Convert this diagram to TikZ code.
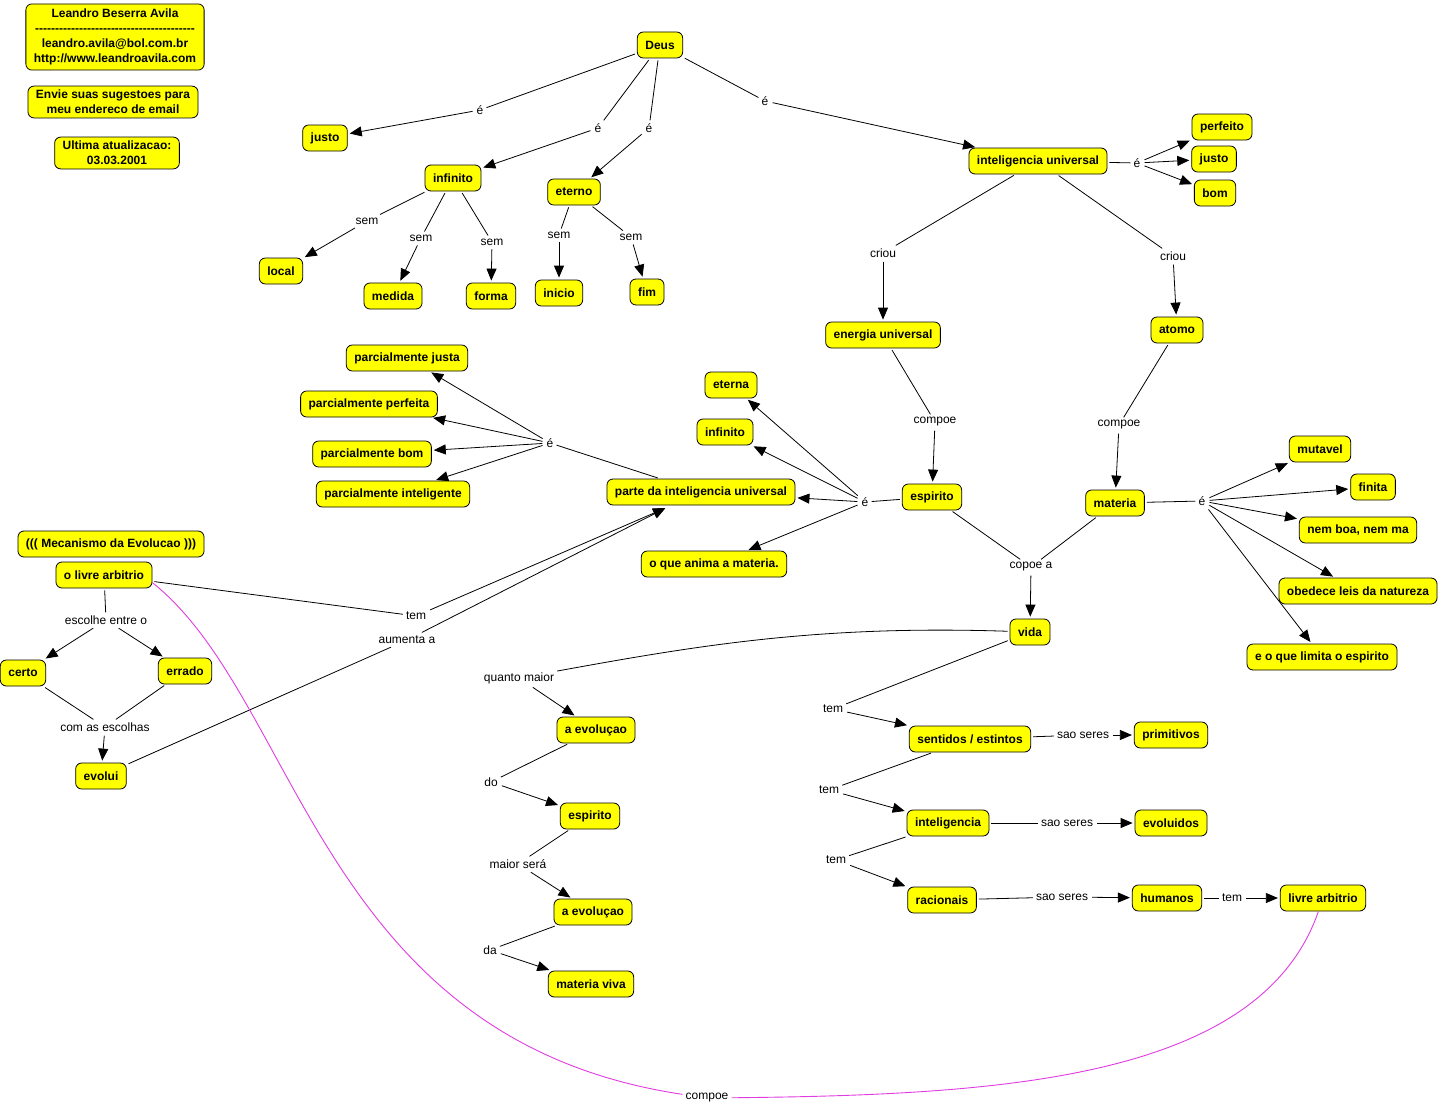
\documentclass[tikz,border=0pt]{standalone}
\usepackage{fontspec}
\setmainfont{Liberation Sans}
\usetikzlibrary{arrows.meta,calc}
\definecolor{cy}{RGB}{255,255,0}
\definecolor{mag}{RGB}{225,60,225}
\newcommand\dashrow{\foreach \i in {1,...,40}{\hbox{-}}}
\begin{document}
\begin{tikzpicture}[x=1pt,y=-1pt,
  c/.style={draw=black, fill=cy, rounded corners=6pt, line width=0.8pt,
    font=\fontsize{12}{15}\selectfont\bfseries, minimum height=26pt,
    inner xsep=8pt, inner ysep=3pt},
  l/.style={font=\fontsize{12}{14}\selectfont, inner sep=3pt},
  ln/.style={line width=0.8pt, shorten <=2pt},
  ar/.style={line width=0.8pt, -{Triangle[length=12pt,width=10pt]}, shorten >=2pt, shorten <=1pt},
  mg/.style={draw=mag, line width=0.9pt}
]
\fill[white] (0,0) rectangle (1439,1108);
\useasboundingbox (0,0) rectangle (1439,1108);

% info boxes
\node[c, align=center, inner ysep=5pt] (info1) at (115,37) {Leandro Beserra Avila\\\dashrow\\leandro.avila@bol.com.br\\http://www.leandroavila.com};
\node[c, align=center, inner ysep=4pt] (info2) at (113,102) {Envie suas sugestoes para\\meu endereco de email};
\node[c, align=center, inner ysep=4pt] (info3) at (117,153) {Ultima atualizacao:\\03.03.2001};

% concepts
\node[c] (deus) at (660,45) {Deus};
\node[c] (justo) at (325,138) {justo};
\node[c] (inf) at (453,178) {infinito};
\node[c] (eterno) at (574,192) {eterno};
\node[c] (iu) at (1038,161) {inteligencia universal};
\node[c] (perf) at (1222,127) {perfeito};
\node[c] (justo2) at (1214,159) {justo};
\node[c] (bom) at (1215,193) {bom};
\node[c] (local) at (281,271) {local};
\node[c] (medida) at (393,296) {medida};
\node[c] (forma) at (491,296) {forma};
\node[c] (inicio) at (559,293) {inicio};
\node[c] (fim) at (647,292) {fim};
\node[c] (eu) at (883,335) {energia universal};
\node[c] (atomo) at (1177,330) {atomo};
\node[c] (pj) at (407,358) {parcialmente justa};
\node[c] (pp) at (369,404) {parcialmente perfeita};
\node[c] (pb) at (372,454) {parcialmente bom};
\node[c] (pi) at (393,494) {parcialmente inteligente};
\node[c] (eterna) at (731,385) {eterna};
\node[c] (inf2) at (725,432) {infinito};
\node[c] (parte) at (701,492) {parte da inteligencia universal};
\node[c] (esp) at (932,497) {espirito};
\node[c] (anima) at (714,564) {o que anima a materia.};
\node[c] (mat) at (1115,503) {materia};
\node[c] (mut) at (1320,449) {mutavel};
\node[c] (finita) at (1373,487) {finita};
\node[c] (nbnm) at (1358,530) {nem boa, nem ma};
\node[c] (obed) at (1358,591) {obedece leis da natureza};
\node[c] (limita) at (1322,657) {e o que limita o espirito};
\node[c] (vida) at (1030,632) {vida};
\node[c] (mec) at (111,544) {((( Mecanismo da Evolucao )))};
\node[c] (olivre) at (104,575) {o livre arbitrio};
\node[c] (certo) at (23,673) {certo};
\node[c] (errado) at (185,671) {errado};
\node[c] (evolui) at (101,776) {evolui};
\node[c] (evo1) at (596,730) {a evoluçao};
\node[c] (esp2) at (590,816) {espirito};
\node[c] (evo2) at (593,912) {a evoluçao};
\node[c] (mviva) at (591,984) {materia viva};
\node[c] (sent) at (970,739) {sentidos / estintos};
\node[c] (prim) at (1171,735) {primitivos};
\node[c] (intel) at (948,823) {inteligencia};
\node[c] (evol) at (1171,823) {evoluidos};
\node[c] (rac) at (942,900) {racionais};
\node[c] (hum) at (1167,898) {humanos};
\node[c] (la) at (1323,898) {livre arbitrio};

% labels
\node[l] (e1) at (480,110) {é};
\node[l] (e2) at (598,128) {é};
\node[l] (e3) at (649,128) {é};
\node[l] (e4) at (765,101) {é};
\node[l] (s1) at (367,221) {sem};
\node[l] (s2) at (421,238) {sem};
\node[l] (s3) at (492,242) {sem};
\node[l] (s4) at (559,235) {sem};
\node[l] (s5) at (631,237) {sem};
\node[l] (e5) at (1137,163) {é};
\node[l] (cr1) at (883,253) {criou};
\node[l] (cr2) at (1173,256) {criou};
\node[l] (cp1) at (935,422) {compoe};
\node[l] (cp2) at (1119,425) {compoe};
\node[l] (e6) at (550,443) {é};
\node[l] (e7) at (865,502) {é};
\node[l] (e8) at (1202,501) {é};
\node[l] (cpa) at (1031,567) {copoe a};
\node[l] (tem1) at (416,616) {tem};
\node[l] (aum) at (407,640) {aumenta a};
\node[l] (esc) at (106,620) {escolhe entre o};
\node[l] (com) at (105,727) {com as escolhas};
\node[l] (qm) at (519,678) {quanto maior};
\node[l] (do) at (491,782) {do};
\node[l] (ms) at (518,864) {maior será};
\node[l] (da) at (490,950) {da};
\node[l] (t1) at (833,709) {tem};
\node[l] (t2) at (829,790) {tem};
\node[l] (t3) at (836,860) {tem};
\node[l] (ss1) at (1083,735) {sao seres};
\node[l] (ss2) at (1067,823) {sao seres};
\node[l] (ss3) at (1062,897) {sao seres};
\node[l] (t4) at (1232,898) {tem};
\node[l] (mc) at (707,1098) {compoe};

\coordinate (ptin) at ($(parte.south)+(-34,2)$);

% connectors
\draw[ln] (deus) -- (e1); \draw[ar] (e1) -- (justo);
\draw[ln] (deus) -- (e2); \draw[ar] (e2) -- (inf);
\draw[ln] (deus) -- (e3); \draw[ar] (e3) -- (eterno);
\draw[ln] (deus) -- (e4); \draw[ar] (e4) -- (iu);

\draw[ln] (inf) -- (s1); \draw[ar] (s1) -- (local);
\draw[ln] (inf) -- (s2); \draw[ar] (s2) -- (medida);
\draw[ln] (inf) -- (s3); \draw[ar] (s3) -- (forma);
\draw[ln] (eterno) -- (s4); \draw[ar] (s4) -- (inicio);
\draw[ln] (eterno) -- (s5); \draw[ar] (s5) -- (fim);

\draw[ln] (iu) -- (e5);
\draw[ar] (e5) -- (perf); \draw[ar] (e5) -- (justo2); \draw[ar] (e5) -- (bom);
\draw[ln] (iu) -- (cr1); \draw[ar] (cr1) -- (eu);
\draw[ln] (iu) -- (cr2); \draw[ar] (cr2) -- (atomo);
\draw[ln] (eu) -- (cp1); \draw[ar] (cp1) -- (esp);
\draw[ln] (atomo) -- (cp2); \draw[ar] (cp2) -- (mat);

\draw[ln] (parte) -- (e6);
\draw[ar] (e6) -- (pj); \draw[ar] (e6) -- (pp); \draw[ar] (e6) -- (pb); \draw[ar] (e6) -- (pi);

\draw[ln] (esp) -- (e7);
\draw[ar] (e7) -- (eterna); \draw[ar] (e7) -- (inf2); \draw[ar] (e7) -- (parte); \draw[ar] (e7) -- (anima);

\draw[ln] (mat) -- (e8);
\draw[ar] (e8) -- (mut); \draw[ar] (e8) -- (finita); \draw[ar] (e8) -- (nbnm);
\draw[ar] (e8) -- (obed); \draw[ar] (e8) -- (limita);

\draw[ln] (esp) -- (cpa); \draw[ln] (mat) -- (cpa); \draw[ar] (cpa) -- (vida);

\draw[ln] (olivre) -- (tem1); \draw[ar] (tem1) -- (ptin);
\draw[ln] (evolui) -- (aum); \draw[ar] (aum) -- (ptin);

\draw[ln] (olivre) -- (esc); \draw[ar] (esc) -- (certo); \draw[ar] (esc) -- (errado);
\draw[ln] (certo) -- (com); \draw[ln] (errado) -- (com); \draw[ar] (com) -- (evolui);

\draw[ln] (vida) .. controls (820,625) and (700,645) .. (qm);
\draw[ar] (qm) -- (evo1);
\draw[ln] (evo1) -- (do); \draw[ar] (do) -- (esp2);
\draw[ln] (esp2) -- (ms); \draw[ar] (ms) -- (evo2);
\draw[ln] (evo2) -- (da); \draw[ar] (da) -- (mviva);

\draw[ln] (vida) -- (t1); \draw[ar] (t1) -- (sent);
\draw[ln] (sent) -- (t2); \draw[ar] (t2) -- (intel);
\draw[ln] (intel) -- (t3); \draw[ar] (t3) -- (rac);
\draw[ln] (sent) -- (ss1); \draw[ar] (ss1) -- (prim);
\draw[ln] (intel) -- (ss2); \draw[ar] (ss2) -- (evol);
\draw[ln] (rac) -- (ss3); \draw[ar] (ss3) -- (hum);
\draw[ln] (hum) -- (t4); \draw[ar] (t4) -- (la);

% magenta link
\draw[mg] (olivre.-9) .. controls (300,700) and (320,1040) .. (mc);
\draw[mg] (mc) .. controls (1000,1095) and (1260,1080) .. (la);
\end{tikzpicture}
\end{document}
